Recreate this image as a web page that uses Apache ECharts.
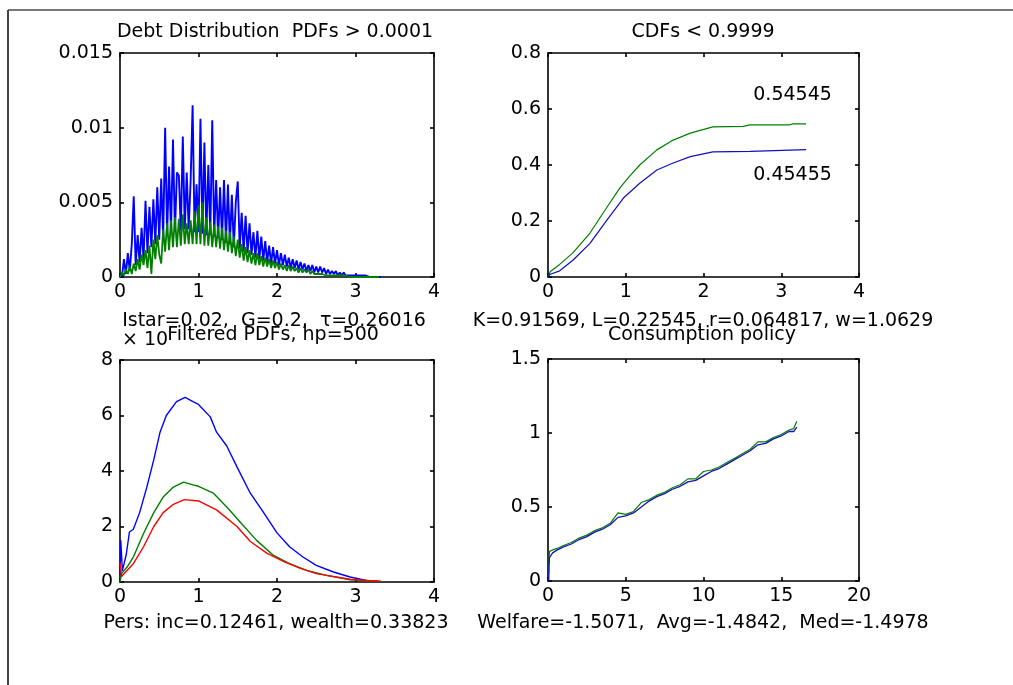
<!DOCTYPE html>
<html>
<head>
<meta charset="utf-8">
<script src="https://cdn.jsdelivr.net/npm/echarts@6/dist/echarts.min.js"></script>
<style>
html,body{margin:0;padding:0;background:#fff;}
#chart{width:1013px;height:685px;}
</style>
</head>
<body>
<div id="chart"></div>
<script>
// ---------- data ----------
const pdfStep = 0.025; // grid spacing of the debt distribution
const debtPdfBlue = [
0.0002,0.0000,0.0012,0.0002,0.0016,0.0004,0.0022,0.0054,0.0008,0.0028,
0.0010,0.0033,0.0012,0.0051,0.0016,0.0047,0.0020,0.0052,0.0022,0.0060,
0.0025,0.0066,0.0026,0.0100,0.0028,0.0074,0.0030,0.0092,0.0030,0.0070,
0.0068,0.0031,0.0094,0.0032,0.0070,0.0032,0.0065,0.0115,0.0030,0.0062,
0.0030,0.0106,0.0029,0.0090,0.0028,0.0075,0.0028,0.0105,0.0027,0.0065,
0.0026,0.0060,0.0025,0.0065,0.0023,0.0062,0.0022,0.0055,0.0020,0.0050,
0.0064,0.0019,0.0043,0.0017,0.0041,0.0016,0.0036,0.0015,0.0030,0.0013,
0.0031,0.0012,0.0027,0.0011,0.0024,0.0010,0.0021,0.0009,0.0020,0.0009,
0.0018,0.0008,0.0016,0.0008,0.0015,0.0007,0.0013,0.0006,0.0012,0.0006,
0.0011,0.0005,0.0010,0.0005,0.0009,0.0004,0.0008,0.0004,0.0008,0.0003,
0.0007,0.0003,0.0007,0.0003,0.0006,0.0002,0.0005,0.0002,0.0004,0.0002,
0.0004,0.0001,0.0003,0.0001,0.0003,0.0001,0.0002,0.0001,0.0002,0.0001,
0.0002,0.0001,0.0002,0.0001,0.0001,0.0001,0.0001,0.0000,0.0001,0.0000,
0.0001,0.0000,0.0001,0.0000
];
const debtPdfGreen = [
0.0000,0.0003,0.0001,0.0005,0.0002,0.0007,0.0002,0.0009,0.0004,0.0012,
0.0005,0.0015,0.0008,0.0018,0.0006,0.0021,0.0002,0.0025,0.0012,0.0028,
0.0015,0.0009,0.0032,0.0017,0.0036,0.0018,0.0038,0.0020,0.0040,0.0020,
0.0039,0.0021,0.0042,0.0022,0.0036,0.0022,0.0038,0.0022,0.0044,0.0022,
0.0048,0.0022,0.0050,0.0021,0.0040,0.0021,0.0037,0.0020,0.0035,0.0020,
0.0034,0.0019,0.0033,0.0018,0.0031,0.0017,0.0030,0.0016,0.0027,0.0014,
0.0025,0.0013,0.0022,0.0011,0.0020,0.0010,0.0018,0.0009,0.0016,0.0008,
0.0016,0.0008,0.0014,0.0007,0.0013,0.0007,0.0012,0.0006,0.0011,0.0006,
0.0010,0.0005,0.0009,0.0005,0.0008,0.0004,0.0008,0.0004,0.0007,0.0004,
0.0006,0.0003,0.0006,0.0003,0.0005,0.0003,0.0005,0.0002,0.0004,0.0002,
0.0003,0.0002,0.0003,0.0002,0.0003,0.0001,0.0002,0.0001,0.0002,0.0001,
0.0002,0.0001,0.0001,0.0001,0.0001,0.0001,0.0001,0.0000,0.0001,0.0000,
0.0001,0.0000,0.0001,0.0000,0.0000,0.0000,0.0000,0.0000,0.0000,0.0000,
0.0000,0.0000,0.0000
];
const cdfGreen = [[0,0],[0.03,0.02],[0.15,0.045],[0.32,0.086],[0.54,0.157],[0.76,0.25],[0.93,0.32],[1.05,0.36],[1.18,0.40],[1.4,0.454],[1.61,0.489],[1.83,0.514],[2.12,0.536],[2.51,0.538],[2.6,0.543],[3.1,0.543],[3.15,0.547],[3.32,0.547]];
const cdfBlue = [[0,0],[0.03,0.01],[0.15,0.022],[0.32,0.06],[0.54,0.12],[0.76,0.204],[0.97,0.282],[1.18,0.335],[1.4,0.382],[1.61,0.407],[1.83,0.43],[2.12,0.447],[2.6,0.449],[2.62,0.455],[3.32,0.455]];
const cdfEndTexts = ['0.54545', '0.45455'];
const cdfTextAt = [[2.64, 0.65], [2.64, 0.364]];
const filtBlue = [[0,0.2],[0.01,1.5],[0.03,0.4],[0.08,1.0],[0.12,1.8],[0.17,1.9],[0.25,2.5],[0.34,3.4],[0.43,4.4],[0.51,5.4],[0.59,6.0],[0.72,6.5],[0.83,6.65],[0.93,6.5],[1.0,6.4],[1.15,5.95],[1.23,5.4],[1.36,4.9],[1.49,4.15],[1.66,3.2],[1.83,2.5],[2.0,1.77],[2.16,1.27],[2.33,0.9],[2.5,0.6],[2.72,0.36],[2.93,0.18],[3.14,0.06],[3.32,0.02]];
const filtGreen = [[0,0],[0.02,0.3],[0.09,0.54],[0.17,0.9],[0.3,1.75],[0.43,2.5],[0.55,3.06],[0.68,3.42],[0.81,3.6],[0.93,3.5],[1.0,3.45],[1.19,3.2],[1.36,2.7],[1.53,2.16],[1.74,1.5],[1.95,0.97],[2.16,0.66],[2.38,0.42],[2.63,0.24],[2.93,0.08],[3.32,0.02]];
const filtRed = [[0,0.7],[0.02,0.2],[0.05,0.3],[0.17,0.66],[0.3,1.27],[0.43,2.0],[0.55,2.5],[0.68,2.8],[0.82,2.97],[1.0,2.92],[1.23,2.6],[1.49,2.0],[1.66,1.46],[1.87,1.04],[2.08,0.74],[2.29,0.5],[2.5,0.3],[2.93,0.1],[3.32,0.02]];
const consBlue = [[0.05,0],[0.06,0.1],[0.1,0.16],[0.3,0.19],[0.6,0.21],[1,0.23],[1.5,0.25],[2,0.28],[2.5,0.30],[3,0.33],[3.5,0.35],[4,0.38],[4.5,0.43],[5,0.44],[5.5,0.46],[6,0.50],[6.5,0.54],[7,0.57],[7.5,0.59],[8,0.62],[8.5,0.64],[9,0.67],[9.5,0.68],[10,0.71],[10.5,0.74],[11,0.76],[11.5,0.79],[12,0.82],[12.5,0.85],[13,0.88],[13.5,0.92],[14,0.93],[14.5,0.96],[15,0.98],[15.5,1.01],[15.8,1.01],[16,1.04]];
const consGreen = [[0.05,0.05],[0.06,0.15],[0.1,0.2],[0.3,0.21],[0.6,0.22],[1,0.24],[1.5,0.26],[2,0.29],[2.5,0.31],[3,0.34],[3.5,0.36],[4,0.39],[4.5,0.46],[5,0.45],[5.5,0.47],[6,0.53],[6.5,0.55],[7,0.58],[7.5,0.60],[8,0.63],[8.5,0.65],[9,0.69],[9.5,0.69],[10,0.74],[10.5,0.75],[11,0.77],[11.5,0.80],[12,0.83],[12.5,0.86],[13,0.89],[13.5,0.94],[14,0.94],[14.5,0.97],[15,0.99],[15.5,1.02],[15.8,1.03],[16,1.08]];

const xTicksPdf = [0, 1, 2, 3, 4];
const xTicksCons = [0, 5, 10, 15, 20];
const yTicks1 = [0, 0.005, 0.01, 0.015];
const yTicks2 = [0, 0.2, 0.4, 0.6, 0.8];
const yTicks3 = [0, 2, 4, 6, 8];
const yTicks4 = [0, 0.5, 1, 1.5];

const texts = {
  t1: 'Debt Distribution  PDFs > 0.0001',
  t2: 'CDFs < 0.9999',
  x1: 'Istar=0.02,  G=0.2,  \u03c4=0.26016',
  x2: 'K=0.91569, L=0.22545, r=0.064817, w=1.0629',
  t3: 'Filtered PDFs, hp=500',
  t4: 'Consumption policy',
  exp3: '\u00d7 10',
  x3: 'Pers: inc=0.12461, wealth=0.33823',
  x4: 'Welfare=-1.5071,  Avg=-1.4842,  Med=-1.4978'
};

// ---------- chart ----------
const FONT = 'DejaVu Sans';
const FS = 19;
const grids = [
  {left:120, top:53, width:314, height:224},
  {left:548, top:53, width:311, height:224},
  {left:120, top:360, width:314, height:222},
  {left:548, top:359, width:311, height:222}
];
const xt = [xTicksPdf, xTicksPdf, xTicksPdf, xTicksCons];
const yt = [yTicks1, yTicks2, yTicks3, yTicks4];

function rng(t){ return {min:t[0], max:t[t.length-1], interval:t[1]-t[0]}; }
const xAxes = [], yAxes = [];
grids.forEach((g, i) => {
  ['bottom','top'].forEach(pos => {
    xAxes.push(Object.assign({
      type:'value', gridIndex:i, position:pos,
      axisLine:{show:true, onZero:false, lineStyle:{color:'#000', width:1.6}},
      axisTick:{show:true, inside:true, length:4, lineStyle:{color:'#000', width:1.6}},
      axisLabel:{show:pos==='bottom', color:'#000', fontFamily:FONT, fontSize:FS, margin:6},
      splitLine:{show:false}
    }, rng(xt[i])));
  });
  ['left','right'].forEach(pos => {
    yAxes.push(Object.assign({
      type:'value', gridIndex:i, position:pos,
      axisLine:{show:true, onZero:false, lineStyle:{color:'#000', width:1.6}},
      axisTick:{show:true, inside:true, length:4, lineStyle:{color:'#000', width:1.6}},
      axisLabel:{show:pos==='left', color:'#000', fontFamily:FONT, fontSize:FS, margin:7},
      splitLine:{show:false}
    }, rng(yt[i])));
  });
});

function onGrid(arr){ return arr.map((v, i) => [+(i * pdfStep).toFixed(3), v]); }
function line(gi, data, color, width, extra){
  return Object.assign({
    type:'line', xAxisIndex:gi*2, yAxisIndex:gi*2, data:data,
    showSymbol:false, symbol:'none', silent:true, animation:false,
    lineStyle:{color:color, width:width||1}, itemStyle:{color:color}
  }, extra||{});
}
const BLUE='#0000ff', GREEN='#007f00', RED='#ff0000';
const series = [
  line(0, onGrid(debtPdfBlue), BLUE, 1.9),
  line(0, onGrid(debtPdfGreen), GREEN, 1.8),
  line(1, cdfGreen, GREEN, 1.2, {markPoint:{symbol:'circle', symbolSize:0, silent:true,
    label:{show:true, position:'right', distance:0, color:'#000', fontFamily:FONT, fontSize:FS, formatter: p => p.name},
    data:[{name:cdfEndTexts[0], coord:cdfTextAt[0]}]}}),
  line(1, cdfBlue, '#1010c0', 1.2, {markPoint:{symbol:'circle', symbolSize:0, silent:true,
    label:{show:true, position:'right', distance:0, color:'#000', fontFamily:FONT, fontSize:FS, formatter: p => p.name},
    data:[{name:cdfEndTexts[1], coord:cdfTextAt[1]}]}}),
  line(2, filtBlue, BLUE, 1.4),
  line(2, filtGreen, GREEN, 1.4),
  line(2, filtRed, RED, 1.4),
  line(3, consGreen, GREEN, 1.2),
  line(3, consBlue, '#1010c0', 1.3)
];

function txt(s, x, y, align){
  return {type:'text', x:x, y:y, silent:true, z:100,
    style:{text:s, fill:'#000', font: FS + 'px "' + FONT + '"', fontSize:FS, fontFamily:FONT,
      align:align||'center', verticalAlign:'middle', textAlign:align||'center', textVerticalAlign:'middle'}};
}
const graphic = [
  {type:'line', shape:{x1:8, y1:10, x2:1013, y2:10}, style:{stroke:'#777', lineWidth:2}, silent:true},
  {type:'line', shape:{x1:8, y1:10, x2:8, y2:685}, style:{stroke:'#444', lineWidth:2}, silent:true},
  txt(texts.t1, 275, 32),
  txt(texts.t2, 703, 32),
  txt(texts.x1, 274, 321),
  txt(texts.x2, 703, 321),
  txt(texts.t3, 273, 335),
  txt(texts.exp3, 122, 340, 'left'),
  txt(texts.t4, 702, 335),
  txt(texts.x3, 276, 623),
  txt(texts.x4, 703, 623)
];

const chart = echarts.init(document.getElementById('chart'), null, {renderer:'canvas'});
chart.setOption({
  backgroundColor:'#fff',
  animation:false,
  grid: grids.map(g => Object.assign({containLabel:false, show:false}, g)),
  xAxis: xAxes,
  yAxis: yAxes,
  series: series,
  graphic: graphic
});
</script>
</body>
</html>
